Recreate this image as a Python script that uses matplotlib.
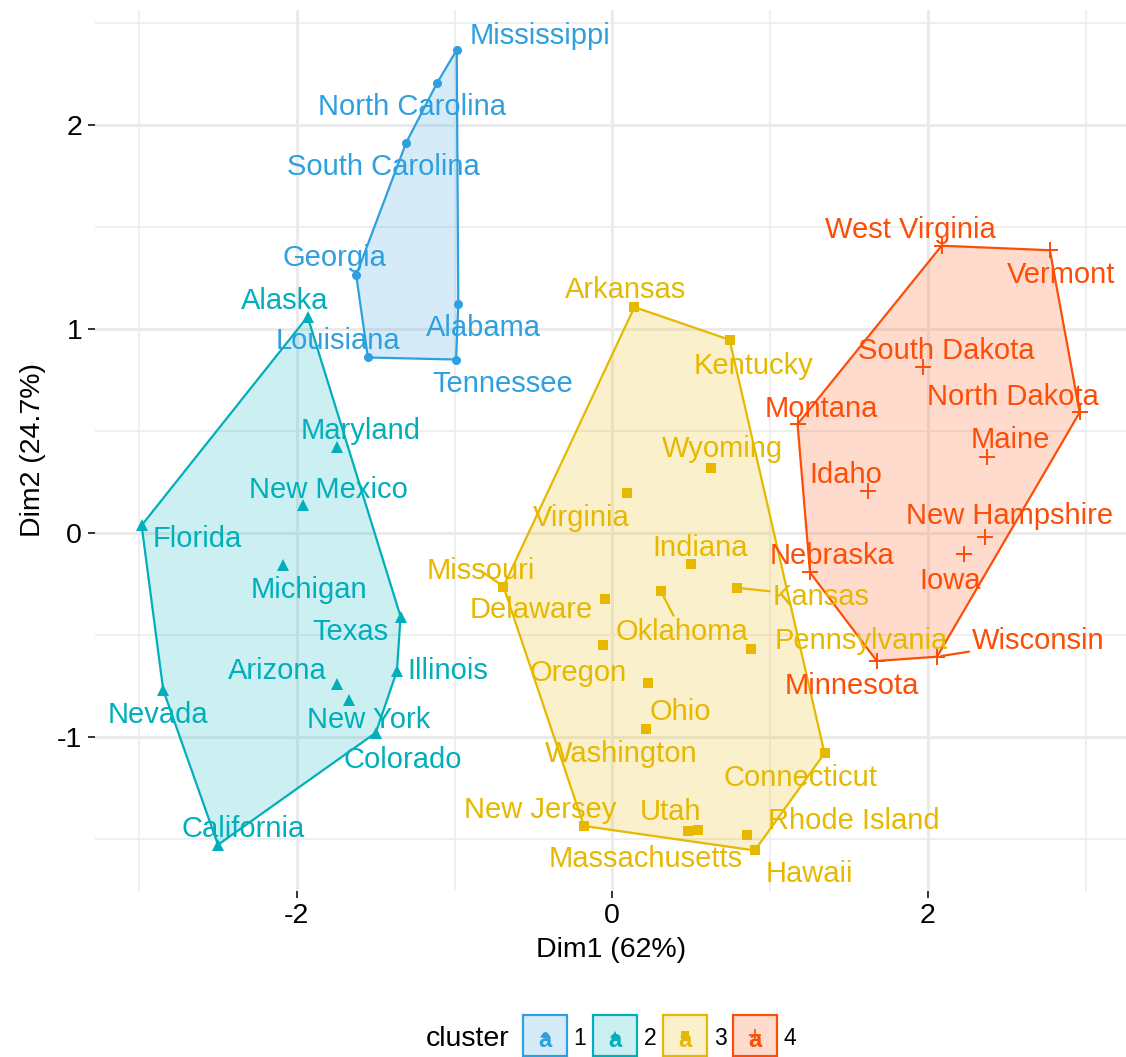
import numpy as np
import matplotlib
matplotlib.use("Agg")
import matplotlib.pyplot as plt
from matplotlib import patches
from matplotlib.lines import Line2D

plt.rcParams['font.family'] = ['Liberation Sans', 'DejaVu Sans']

# PCA scores of the scaled data, and k-means cluster of each state
states = ["Alabama", "Alaska", "Arizona", "Arkansas", "California", "Colorado",
          "Connecticut", "Delaware", "Florida", "Georgia", "Hawaii", "Idaho",
          "Illinois", "Indiana", "Iowa", "Kansas", "Kentucky", "Louisiana",
          "Maine", "Maryland", "Massachusetts", "Michigan", "Minnesota",
          "Mississippi", "Missouri", "Montana", "Nebraska", "Nevada",
          "New Hampshire", "New Jersey", "New Mexico", "New York",
          "North Carolina", "North Dakota", "Ohio", "Oklahoma", "Oregon",
          "Pennsylvania", "Rhode Island", "South Carolina", "South Dakota",
          "Tennessee", "Texas", "Utah", "Vermont", "Virginia", "Washington",
          "West Virginia", "Wisconsin", "Wyoming"]
dim1 = [-0.976, -1.931, -1.745, 0.140, -2.499, -1.499, 1.345, -0.047, -2.983,
        -1.623, 0.903, 1.623, -1.365, 0.500, 2.231, 0.789, 0.743, -1.549, 2.373,
        -1.746, 0.481, -2.087, 1.676, -0.986, -0.690, 1.174, 1.253, -2.846,
        2.360, -0.180, -1.960, -1.666, -1.112, 2.962, 0.224, 0.309, -0.059,
        0.880, 0.855, -1.307, 1.968, -0.990, -1.342, 0.545, 2.773, 0.095,
        0.215, 2.087, 2.058, 0.623]
dim2 = [1.122, 1.062, -0.738, 1.109, -1.527, -0.978, -1.078, -0.322, 0.039,
        1.266, -1.555, 0.209, -0.675, -0.150, -0.103, -0.267, 0.949, 0.862,
        0.373, 0.423, -1.460, -0.154, -0.626, 2.370, -0.261, 0.535, -0.192,
        -0.768, -0.018, -1.435, 0.141, -0.815, 2.206, 0.593, -0.735, -0.285,
        -0.546, -0.565, -1.477, 1.914, 0.815, 0.852, -0.408, -1.457, 1.388,
        0.198, -0.960, 1.410, -0.605, 0.318]
cluster = [1, 2, 2, 3, 2, 2, 3, 3, 2, 1, 3, 4, 2, 3, 4, 3, 3, 1, 4, 2, 3, 2, 4,
           1, 3, 4, 4, 2, 4, 3, 2, 2, 1, 4, 3, 3, 3, 3, 3, 1, 4, 1, 2, 3, 4, 3,
           3, 4, 4, 3]
cluster_ids = [1, 2, 3, 4]

# styling per cluster
colors = {1: "#2E9FDF", 2: "#00AFBB", 3: "#E7B800", 4: "#FC4E07"}
markers = {1: "o", 2: "^", 3: "s", 4: "+"}
msizes = {1: 6.5, 2: 8, 3: 7, 4: 11}

# label offsets from the point, in pixels (repel-like placement)
label_off = {
    "Mississippi": (83, 17), "North Carolina": (-25, -21), "South Carolina": (-23, -21),
    "Georgia": (-22, 20), "Louisiana": (-30, 19), "Alabama": (25, -21),
    "Tennessee": (47, -21), "Alaska": (-23, 19), "Maryland": (24, 19),
    "New Mexico": (25, 18), "Florida": (56, -11), "Michigan": (26, -22),
    "Texas": (-50, -12), "Illinois": (51, 3), "Arizona": (-60, 16),
    "New York": (19, -17), "Nevada": (-5, -22), "Colorado": (27, -24),
    "California": (25, 19), "Arkansas": (-9, 20), "Kentucky": (24, -23),
    "Wyoming": (12, 22), "Virginia": (-46, -22), "Indiana": (9, 19),
    "Missouri": (-23, 19), "Kansas": (84, -6), "Delaware": (-74, -8),
    "Oklahoma": (21, -38), "Pennsylvania": (110, 11), "Oregon": (-25, -25),
    "Ohio": (33, -26), "Washington": (-25, -22), "Connecticut": (-24, -22),
    "New Jersey": (-44, 19), "Utah": (-28, 21), "Massachusetts": (-43, -25),
    "Rhode Island": (107, 17), "Hawaii": (55, -21), "West Virginia": (-31, 19),
    "Vermont": (11, -22), "South Dakota": (23, 19), "North Dakota": (-67, 18),
    "Montana": (24, 18), "Maine": (24, 20), "Idaho": (-23, 19),
    "New Hampshire": (25, 24), "Nebraska": (22, 19), "Iowa": (-14, -24),
    "Wisconsin": (101, 19), "Minnesota": (-25, -22),
}
with_segment = {"Kansas", "Oklahoma", "Wisconsin", "Missouri"}


def convex_hull(pts):
    pts = sorted(set(pts))
    if len(pts) < 3:
        return pts

    def cross(o, a, b):
        return (a[0] - o[0]) * (b[1] - o[1]) - (a[1] - o[1]) * (b[0] - o[0])
    lower, upper = [], []
    for p in pts:
        while len(lower) >= 2 and cross(lower[-2], lower[-1], p) <= 0:
            lower.pop()
        lower.append(p)
    for p in reversed(pts):
        while len(upper) >= 2 and cross(upper[-2], upper[-1], p) <= 0:
            upper.pop()
        upper.append(p)
    return lower[:-1] + upper[:-1]


W, H = 1126, 1057
fig = plt.figure(figsize=(W / 100, H / 100), dpi=100)

x = np.array(dim1)
y = np.array(dim2)
cl = np.array(cluster)
xr = x.max() - x.min()
yr = y.max() - y.min()
xlim = (x.min() - 0.05 * xr, x.max() + 0.05 * xr)
ylim = (y.min() - 0.05 * yr, y.max() + 0.05 * yr)

# panel placement (pixels)
px_l, px_r, px_t, px_b = 94.7, 1126.6, 9.9, 890.5
ax = fig.add_axes([px_l / W, 1 - px_b / H, (px_r - px_l) / W, (px_b - px_t) / H])
ax.set_xlim(*xlim)
ax.set_ylim(*ylim)

for s in ax.spines.values():
    s.set_visible(False)
ax.set_xticks([-2, 0, 2])
ax.set_yticks([-1, 0, 1, 2])
ax.set_xticks([-3, -1, 1, 3], minor=True)
ax.set_yticks([-1.5, -0.5, 0.5, 1.5, 2.5], minor=True)
ax.set_xticklabels(["-2", "0", "2"])
ax.set_yticklabels(["-1", "0", "1", "2"])
ax.grid(which="major", color="#EBEBEB", lw=2.2)
ax.grid(which="minor", color="#EBEBEB", lw=1.1)
ax.set_axisbelow(True)
ax.tick_params(which="major", length=5, width=1.4, color="#333333",
               labelsize=20.5, labelcolor="black", pad=4)
ax.tick_params(which="minor", length=0)
ax.set_xlabel("Dim1 (62%)", fontsize=20.5, labelpad=6)
ax.set_ylabel("Dim2 (24.7%)", fontsize=20.5, labelpad=8)

for k in cluster_ids:
    m = cl == k
    hull = convex_hull(list(zip(x[m], y[m])))
    ax.add_patch(patches.Polygon(hull, closed=True, facecolor=colors[k], alpha=0.2,
                                 edgecolor="none", zorder=2))
    ax.add_patch(patches.Polygon(hull, closed=True, facecolor="none",
                                 edgecolor=colors[k], lw=1.6, zorder=3))
    mew = 1.4 if markers[k] == "+" else 0
    ax.plot(x[m], y[m], linestyle="none", marker=markers[k], ms=msizes[k],
            color=colors[k], mew=mew, zorder=4)

for name, xi, yi, ci in zip(states, dim1, dim2, cluster):
    dx, dy = label_off[name]
    kw = {}
    if name in with_segment:
        kw["arrowprops"] = dict(arrowstyle="-", color=colors[ci], lw=1.6,
                                shrinkA=0, shrinkB=3)
    ax.annotate(name, xy=(xi, yi), xytext=(dx, dy), textcoords="offset pixels",
                ha="center", va="center_baseline", fontsize=21, color=colors[ci],
                zorder=5, annotation_clip=False, **kw)

# legend at bottom
def fx(px):
    return px / W


def fy(py):
    return 1 - py / H


leg_cy = 1036
fig.text(fx(426), fy(leg_cy), "cluster", fontsize=20.5, ha="left", va="center_baseline")
key_left = [523, 593, 663, 733]
key_w, key_h = 44, 41
for k, kl in zip(cluster_ids, key_left):
    fig.add_artist(patches.Rectangle((fx(kl), fy(1015 + key_h)), key_w / W, key_h / H,
                                     transform=fig.transFigure, facecolor=colors[k],
                                     alpha=0.2, edgecolor="none"))
    fig.add_artist(patches.Rectangle((fx(kl), fy(1015 + key_h)), key_w / W, key_h / H,
                                     transform=fig.transFigure, facecolor="none",
                                     edgecolor=colors[k], lw=1.6))
    cx = kl + key_w / 2
    fig.text(fx(cx), fy(1038), "a", fontsize=17, fontweight="bold", color=colors[k],
             ha="center", va="center_baseline")
    mew = 1.2 if markers[k] == "+" else 0
    fig.add_artist(Line2D([fx(cx)], [fy(1035)], transform=fig.transFigure,
                          marker=markers[k], ms=msizes[k] * 0.75, color=colors[k],
                          mew=mew, linestyle="none"))
    fig.text(fx(kl + key_w + 13), fy(leg_cy), str(k), fontsize=16.5,
             ha="center", va="center_baseline")

fig.savefig("out.png", dpi=100)
